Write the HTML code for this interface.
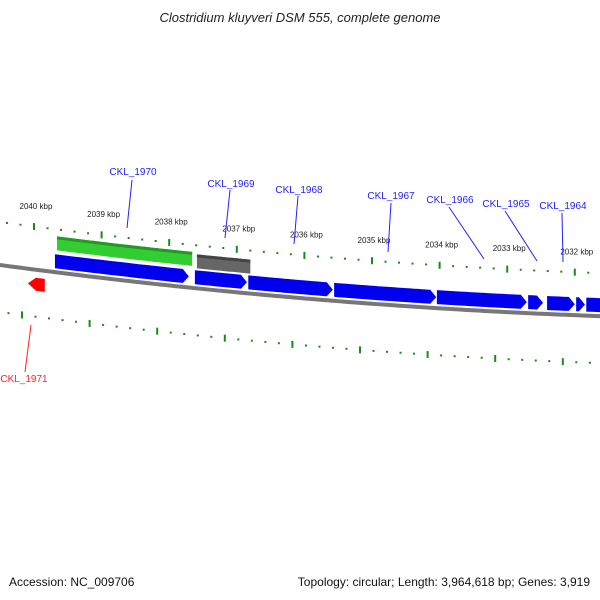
<!DOCTYPE html>
<html><head><meta charset="utf-8"><style>
body{margin:0;background:#fff;}
svg{display:block;font-family:"Liberation Sans","DejaVu Sans",sans-serif;}
</style></head><body>
<svg id="chart" width="600" height="600" viewBox="0 0 600 600" xmlns="http://www.w3.org/2000/svg">
<rect width="600" height="600" fill="#fff"/>
<text x="300" y="22" text-anchor="middle" font-size="13" font-style="italic" fill="#222">Clostridium kluyveri DSM 555, complete genome</text>
<g id="ticks"></g>
<g id="feats"></g>
<g id="labels"></g>
<text x="9" y="586" font-size="12" fill="#111">Accession: NC_009706</text>
<text x="590" y="586" text-anchor="end" font-size="12" fill="#111">Topology: circular; Length: 3,964,618 bp; Genes: 3,919</text>
</svg>
<script>
const majorTicks=[2040,2039,2038,2037,2036,2035,2034,2033,2032,2031];
const tickLabels=["2040 kbp","2039 kbp","2038 kbp","2037 kbp","2036 kbp","2035 kbp","2034 kbp","2033 kbp","2032 kbp"];
const cdsStarts=[2039.69,2037.62,2036.83,2035.56,2034.04,2032.69,2032.41,2031.98,2031.83];
const cdsEnds=[2037.71,2036.85,2035.58,2034.05,2032.71,2032.47,2032.0,2031.85,2031.2];
const rnaStarts=[2039.66];
const rnaEnds=[2037.66];
const otherStarts=[2037.59];
const otherEnds=[2036.80];
const revStarts=[2040.09];
const revEnds=[2039.84];
const geneNames=["CKL_1970","CKL_1969","CKL_1968","CKL_1967","CKL_1966","CKL_1965","CKL_1964"];
const genePos=[2038.44,2036.95,2036.24,2035.09,2033.66,2032.86,2032.07];
const NS="http://www.w3.org/2000/svg";
function px(p){return 34+(2040-p)*67.6;}
function yb(x){return 265+0.135*x-8.3e-5*x*x;}
function slope(x){return 0.135-2*8.3e-5*x;}
function mk(tag,attrs,parent){const e=document.createElementNS(NS,tag);for(const k in attrs)e.setAttribute(k,attrs[k]);parent.appendChild(e);return e;}
const T=document.getElementById('ticks'),F=document.getElementById('feats'),L=document.getElementById('labels');
// backbone
let d="";for(let x=-5;x<=605;x+=5){d+=(x===-5?"M":"L")+x+","+yb(x).toFixed(2);}
const bb=mk('path',{d:d,stroke:"#777",'stroke-width':4,fill:"none"},F);


// ticks
for(let p=2040.6;p>=2030.8;p-=0.2){
  const pr=Math.round(p*10)/10;const isMaj=Math.abs(pr-Math.round(pr))<0.01;
  [[-43,0],[47,-12]].forEach(([off,sh])=>{
    const x=px(pr)+sh;if(x<-5||x>605)return;const y=yb(x)+off;const h=isMaj?7:2;
    const r=mk('rect',{x:x-1,y:y-h/2,width:2,height:h,fill:"#1a8a1a"},T);
    
    
  });
}
tickLabels.forEach((t,i)=>{const x=px(majorTicks[i])+2;const y=yb(x)-61;
  const e=mk('text',{x:x,y:y,'text-anchor':'middle','font-size':8,fill:"#222"},T);e.textContent=t;
  
  });
function band(p1,p2,o1,o2,fill,arrow,name){
  const x1=px(p1),x2=px(p2);let a=[],b=[];const tip=arrow?6:0;
  const xs=[];for(let x=Math.min(x1,x2);x<=Math.max(x1,x2);x+=4)xs.push(x);xs.push(Math.max(x1,x2));
  let xa=Math.min(x1,x2),xe=Math.max(x1,x2);
  let pts=[];
  if(arrow==='r'){xe-=tip;}
  if(arrow==='l'){xa+=tip;}
  const xx=xs.filter(x=>x>=xa&&x<=xe).concat([xe]);
  xx.forEach(x=>pts.push(x+","+(yb(x)+o1).toFixed(1)));
  if(arrow==='r'){const xr=Math.max(x1,x2);pts.push(xr+","+(yb(xr)+(o1+o2)/2).toFixed(1));}
  xx.slice().reverse().forEach(x=>pts.push(x+","+(yb(x)+o2).toFixed(1)));
  if(arrow==='l'){const xl=Math.min(x1,x2);pts.push(xl+","+(yb(xl)+(o1+o2)/2).toFixed(1));}
  const e=mk('polygon',{points:pts.join(" "),fill:fill},F);
  
  
  return e;
}
rnaStarts.forEach((s,i)=>{band(s,rnaEnds[i],-36,-22,"#33cc33",null,'rna-feature');band(s,rnaEnds[i],-36,-33,"#229922",null,'rna-feature-edge');});
otherStarts.forEach((s,i)=>{band(s,otherEnds[i],-34,-20,"#666",null,'other-feature');band(s,otherEnds[i],-34,-31,"#444",null,'other-feature-edge');});
cdsStarts.forEach((s,i)=>{band(s,cdsEnds[i],-18,-4,"#0000ee",'r','cds-forward');});
revStarts.forEach((s,i)=>{band(s,revEnds[i],8,21,"#ff0000",'l','cds-reverse');});
// gene labels
const lbl=[[133,175,132,180,127,228],[231,187,230,190,225,238],[299,193,298,196,294,244],[391,199,391,203,388,252],[450,203,449,207,484,259],[506,207,505,211,537,261],[563,209,562,213,563,262]];
geneNames.forEach((n,i)=>{const c=lbl[i];
  const ln=mk('line',{x1:c[2],y1:c[3],x2:c[4],y2:c[5],stroke:"#2222ff",'stroke-width':1},L);
  
  
  const t=mk('text',{x:c[0],y:c[1],'text-anchor':'middle','font-size':10,fill:"#2222ff"},L);t.textContent=n;
  
  });
const rl=mk('line',{x1:31,y1:325,x2:25,y2:372,stroke:"#ff2222",'stroke-width':1},L);


const rt=mk('text',{x:24,y:382,'text-anchor':'middle','font-size':10,fill:"#ff2222"},L);rt.textContent="CKL_1971";


</script>
</body></html>
